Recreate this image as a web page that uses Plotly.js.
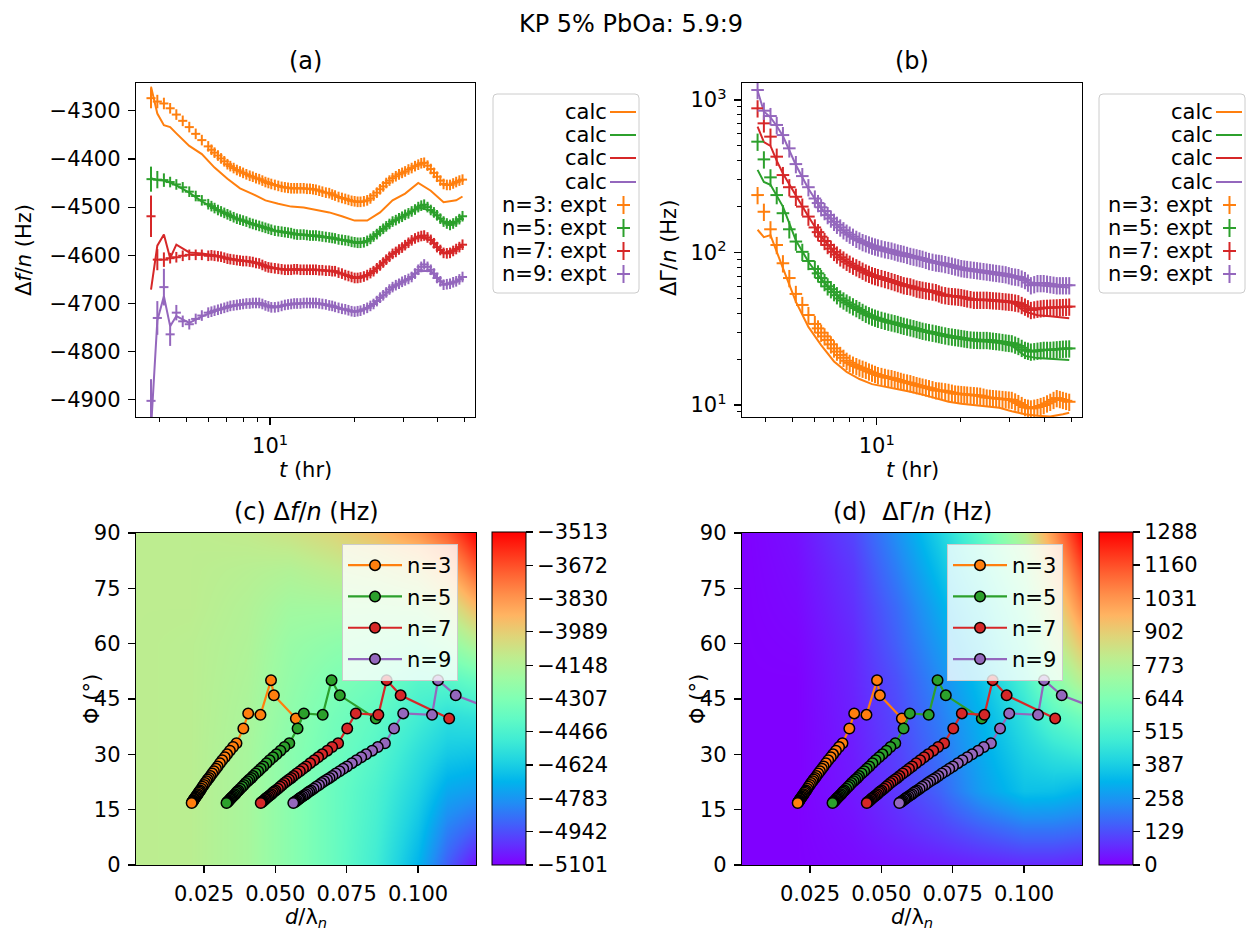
<!DOCTYPE html>
<html><head><meta charset="utf-8">
<script src="https://cdn.plot.ly/plotly-3.0.1.min.js"></script>
<style>body{margin:0;background:#fff}#chart{width:1248px;height:934px}</style>
</head><body><div id="chart"></div>
<script>
// ---------------- data ----------------
const harmonics = [3, 5, 7, 9];
const seriesColors = ['#ff7f0e', '#2ca02c', '#d62728', '#9467bd'];

// time (hr) of experimental points and of calculated curve
const tExpt = [3.74,3.94,4.16,4.38,4.61,4.86,5.13,5.41,5.69,
 6.0,6.16,6.32,6.5,6.67,6.85,7.03,7.2,7.4,7.6,
 7.8,8.0,8.22,8.45,8.67,8.9,9.14,9.38,9.62,9.86,
 10.1,10.4,10.7,11.0,11.3,11.6,11.9,12.2,12.5,12.85,
 13.2,13.55,13.9,14.25,14.6,15.0,15.4,15.85,16.3,16.7,
 17.1,17.6,18.1,18.6,19.1,19.6,20.1,20.6,21.1,21.7,
 22.3,22.9,23.5,24.15,24.8,25.45,26.1,26.8,27.5,28.25,
 29.0,29.75,30.5,31.35,32.2,33.1,34.0,34.85,35.7,36.7,
 37.7,38.7,39.7,40.8,41.9,43.05,44.2,45.35,46.5,47.75,49.0];
const tCalc = [3.74,3.94,4.16,4.38,4.61,5.13,5.69,6.32,7.03,7.8,8.67,9.62,10.7,11.9,13.2,14.6,16.3,18.1,20.1,22.3,24.8,27.5,30.5,34.0,37.7,41.9,46.5,49.0];

// (a) delta f / n (Hz), experimental
const dfExpt3 = [-4274,-4281,-4285,-4295,-4308,-4321,-4334,-4348,-4361,
 -4374,-4381,-4387,-4393,-4399,-4405,-4411,-4415,-4419,-4423,
 -4426,-4429,-4432,-4435,-4437,-4440,-4442,-4445,-4448,-4450,
 -4452,-4454,-4456,-4458,-4459,-4460,-4461,-4461,-4461,-4461,
 -4461,-4462,-4462,-4463,-4464,-4466,-4468,-4470,-4471,-4474,
 -4476,-4479,-4481,-4483,-4485,-4487,-4488,-4489,-4489,-4488,
 -4486,-4482,-4476,-4470,-4463,-4457,-4450,-4445,-4440,-4436,
 -4432,-4429,-4426,-4422,-4419,-4415,-4412,-4409,-4408,-4414,
 -4421,-4429,-4437,-4445,-4452,-4454,-4454,-4451,-4448,-4445,-4443];
const dfExpt5 = [-4442,-4443,-4444,-4448,-4453,-4459,-4468,-4477,-4486,
 -4494,-4498,-4502,-4506,-4509,-4512,-4515,-4518,-4521,-4524,
 -4526,-4528,-4530,-4533,-4535,-4537,-4539,-4541,-4543,-4545,
 -4547,-4549,-4550,-4551,-4552,-4553,-4554,-4556,-4557,-4557,
 -4557,-4558,-4559,-4559,-4559,-4560,-4561,-4562,-4563,-4564,
 -4565,-4567,-4568,-4569,-4570,-4572,-4573,-4574,-4574,-4573,
 -4570,-4566,-4561,-4556,-4550,-4545,-4540,-4535,-4530,-4527,
 -4523,-4520,-4516,-4513,-4509,-4505,-4500,-4497,-4495,-4500,
 -4506,-4511,-4517,-4524,-4530,-4534,-4537,-4534,-4530,-4525,-4519];
const dfExpt7 = [-4519,-4609,-4609,-4606,-4604,-4601,-4599,-4599,-4599,
 -4601,-4600,-4601,-4602,-4603,-4605,-4607,-4608,-4609,-4610,
 -4611,-4612,-4612,-4613,-4614,-4616,-4617,-4620,-4623,-4625,
 -4626,-4627,-4628,-4629,-4630,-4630,-4630,-4629,-4629,-4630,
 -4630,-4630,-4630,-4630,-4630,-4631,-4631,-4632,-4632,-4633,
 -4633,-4636,-4638,-4641,-4643,-4645,-4647,-4647,-4646,-4644,
 -4641,-4637,-4633,-4627,-4621,-4615,-4609,-4603,-4597,-4593,
 -4588,-4584,-4579,-4574,-4569,-4565,-4562,-4560,-4559,-4563,
 -4568,-4575,-4583,-4589,-4595,-4596,-4595,-4591,-4587,-4583,-4578];
const dfExpt9 = [-4902,-4730,-4666,-4764,-4719,-4737,-4743,-4732,-4725,
 -4719,-4717,-4715,-4713,-4711,-4709,-4707,-4705,-4704,-4703,
 -4702,-4701,-4700,-4700,-4699,-4699,-4699,-4701,-4704,-4706,
 -4708,-4708,-4707,-4705,-4703,-4702,-4701,-4700,-4700,-4700,
 -4699,-4699,-4699,-4699,-4699,-4700,-4701,-4702,-4704,-4705,
 -4707,-4709,-4711,-4712,-4714,-4716,-4717,-4716,-4715,-4712,
 -4709,-4705,-4701,-4695,-4688,-4683,-4677,-4671,-4666,-4662,
 -4659,-4655,-4652,-4649,-4645,-4638,-4630,-4624,-4619,-4624,
 -4630,-4638,-4647,-4654,-4661,-4660,-4659,-4656,-4654,-4650,-4645];
// (a) error bars (Hz)
const dfErr3 = [21,14,12,11,11,11,11,11,11, 11,11,11,11,11,11,11,11,11,11, 11,11,11,11,11,11,11,11,11,11, 11,11,11,11,11,11,11,11,11,11, 11,11,11,11,11,11,11,11,11,11, 11,11,11,11,11,11,11,11,11,11, 11,11,11,11,11,11,11,11,11,11, 11,11,11,11,11,11,11,11,11,11, 11,11,11,11,11,11,11,11,11,11,11];
const dfErr5 = [26,18,14,11,11,11,11,11,11, 11,11,11,11,11,11,11,11,11,11, 11,11,11,11,11,11,11,11,11,11, 11,11,11,11,11,11,11,11,11,11, 11,11,11,11,11,11,11,11,11,11, 11,11,11,11,11,11,11,11,11,11, 11,11,11,11,11,11,11,11,11,11, 11,11,11,11,11,11,11,11,11,11, 11,11,11,11,11,11,11,11,11,11,11];
const dfErr7 = [43,22,15,11,11,11,11,11,11, 11,11,11,11,11,11,11,11,11,11, 11,11,11,11,11,11,11,11,11,11, 11,11,11,11,11,11,11,11,11,11, 11,11,11,11,11,11,11,11,11,11, 11,11,11,11,11,11,11,11,11,11, 11,11,11,11,11,11,11,11,11,11, 11,11,11,11,11,11,11,11,11,11, 11,11,11,11,11,11,11,11,11,11,11];
const dfErr9 = [45,35,38,24,16,12,11,11,11, 11,11,11,11,11,11,11,11,11,11, 11,11,11,11,11,11,11,11,11,11, 11,11,11,11,11,11,11,11,11,11, 11,11,11,11,11,11,11,11,11,11, 11,11,11,11,11,11,11,11,11,11, 11,11,11,11,11,11,11,11,11,11, 11,11,11,11,11,11,11,11,11,11, 11,11,11,11,11,11,11,11,11,11,11];
// (a) calculated
const dfCalc3 = [-4250,-4306,-4330,-4334,-4347,-4373,-4390,-4418,-4441,-4461,-4473,-4486,-4493,-4499,-4501,-4506,-4511,-4519,-4528,-4528,-4511,-4486,-4472,-4450,-4466,-4490,-4486,-4478];
const dfCalc5 = [-4440,-4444,-4445,-4449,-4455,-4470,-4488,-4503,-4516,-4527,-4536,-4544,-4551,-4555,-4558,-4560,-4564,-4569,-4574,-4571,-4551,-4531,-4517,-4501,-4507,-4531,-4531,-4520];
const dfCalc7 = [-4671,-4580,-4557,-4606,-4578,-4594,-4596,-4600,-4606,-4610,-4614,-4622,-4628,-4630,-4630,-4630,-4632,-4638,-4647,-4641,-4621,-4597,-4579,-4562,-4568,-4595,-4587,-4578];
const dfCalc9 = [-4960,-4735,-4685,-4747,-4726,-4740,-4727,-4716,-4708,-4703,-4700,-4704,-4706,-4702,-4700,-4700,-4705,-4712,-4717,-4710,-4690,-4668,-4653,-4633,-4632,-4660,-4655,-4645];

// (b) delta Gamma / n (Hz), experimental
const dgExpt3 = [238,185,142,112,85,68,53.5,45.3,38.9,
 34,31.8,29.8,28.2,26.7,25,23.5,22.4,21.3,20.4,
 19.5,18.9,18.4,18,17.6,17.3,17,16.6,16.3,16,
 15.7,15.5,15.3,15.1,15,14.8,14.6,14.4,14.2,14.05,
 13.9,13.7,13.5,13.35,13.2,13.05,12.9,12.7,12.5,12.45,
 12.4,12.3,12.2,12.05,11.9,11.85,11.8,11.75,11.7,11.65,
 11.6,11.55,11.5,11.35,11.2,11.15,11.1,11.05,11,10.95,
 10.9,10.85,10.8,10.55,10.3,10,9.7,9.6,9.5,9.6,
 9.7,9.85,10,10.25,10.5,10.8,11.1,10.95,10.8,10.65,10.5];
const dgExpt5 = [533,408,311,238,181,142,118,101,88,
 78,73,68,64,60,57.5,55,52.5,50,48.5,
 47,45.7,44.4,43.2,42,40.8,39.7,38.8,38,37.4,
 36.8,36.2,35.7,35.2,34.8,34.4,34,33.5,33.1,32.7,
 32.3,31.9,31.5,31.1,30.7,30.4,30.1,29.8,29.5,29.2,
 28.9,28.6,28.3,28.1,27.9,27.7,27.5,27.3,27.1,26.9,
 26.8,26.75,26.7,26.7,26.7,26.55,26.4,26.25,26.1,25.9,
 25.7,25.55,25.4,24.9,24.4,23.7,23,22.7,22.4,22.55,
 22.7,22.85,23,23,23,23.1,23.2,23.3,23.4,23.45,23.5];
const dgExpt7 = [882,703,575,425,322,268,232,200,172,
 146,136,127,119,112,106,101,97,93,90,
 87,84.5,82,80,78,76,74,72.5,71,70,
 69,68,67,66,65,64,63,62,61,60.5,
 60,59,58,57.5,57,56.5,56,55.5,55,54,
 53,52.5,52,51.8,51.6,51.3,51,50.5,50,49.5,
 49,49,49,49,49,48.8,48.6,48.45,48.3,48.05,
 47.8,47.6,47.4,46.95,46.5,45.3,44.2,43.1,42,42.4,
 42.8,43.05,43.3,43.4,43.5,43.6,43.7,43.8,43.9,44.05,44.2];
const dgExpt9 = [1163,851,785,686,589,482,380,317,268,
 226,211,198,187,176,167,159,152,146,140,
 135,131,127,123,120,117,115,113,111,109.5,
 108,106.5,105,104,103,101.5,100,99,98,96.5,
 95,94,93,92,91,89.5,88,87,86,85.5,
 85,84,83,82,81,80,79,78.5,78,77.5,
 77,76.5,76,75.5,75,74.5,74,73.5,73,72.5,
 72,71,70,69.5,69,67.5,66,63.5,61,62,
 63,63,63,62.5,62,61.5,61,61,61,61,61];
// (b) calculated
const dgCalc3 = [141,126,130,100,79,47.6,32.5,24.7,19.3,16.5,14.8,13.7,13.2,12.7,12.2,11.7,11.1,10.5,10.2,10,9.8,9.6,9.1,8.7,8.5,8.4,8.7,8.9];
const dgCalc5 = [348,290,278,235,200,120,87,67,54,46.5,41.5,37.5,35,33.3,31.7,30.2,29,27.8,27,26.3,26,25.5,24.5,21,20.3,20,19.8,19.7];
const dgCalc7 = [668,530,500,400,330,235,172,127,101,87,78,71,67,63,60,57,55,52,51,49,48.5,48,47,41,38.8,38.2,37.5,37];
const dgCalc9 = [1150,840,770,675,580,375,262,195,157,133,118,106,101,96,93,89,84,81,77,75,73,71,69,65,61,60,59,59];

// (c),(d) solution points: phase angle (deg) shared, d/lambda_n per harmonic
const phiSol = [39.7,46.0,50.1,40.7,41.1,37.0,33.0,32.0,31.0,30.0,29.2,28.4,27.6,26.7,26.1,25.4,24.8,24.1,23.6,23.2,22.7,22.2,21.7,21.2,20.7,20.2,19.9,19.6,19.2,18.9,18.6,18.3,18.0,17.8,17.5,17.3,17.1,17.0,16.8];
const dlam3 = [0.0572,0.0495,0.0485,0.0448,0.0405,0.0388,0.0364,0.0352,0.0341,0.0331,0.0323,0.0314,0.0306,0.0298,0.0292,0.0285,0.0279,0.0273,0.0268,0.0263,0.0259,0.0254,0.0250,0.0245,0.0241,0.0237,0.0234,0.0231,0.0228,0.0225,0.0222,0.0220,0.0217,0.0215,0.0213,0.0211,0.0210,0.0208,0.0207];
const dlam5 = [0.0852,0.0726,0.0697,0.0666,0.0600,0.0578,0.0549,0.0532,0.0518,0.0504,0.0492,0.0480,0.0469,0.0458,0.0449,0.0440,0.0431,0.0422,0.0416,0.0409,0.0403,0.0396,0.0390,0.0384,0.0377,0.0371,0.0367,0.0363,0.0359,0.0355,0.0351,0.0347,0.0344,0.0341,0.0338,0.0335,0.0333,0.0331,0.0329];
const dlam7 = [0.1109,0.0939,0.0890,0.0861,0.0782,0.0752,0.0720,0.0699,0.0682,0.0664,0.0650,0.0636,0.0622,0.0608,0.0597,0.0586,0.0575,0.0564,0.0556,0.0548,0.0540,0.0532,0.0524,0.0517,0.0509,0.0501,0.0496,0.0491,0.0486,0.0481,0.0476,0.0471,0.0467,0.0464,0.0460,0.0456,0.0454,0.0451,0.0449];
const dlam9 = [0.1348,0.1132,0.1070,0.1049,0.0948,0.0916,0.0884,0.0859,0.0839,0.0818,0.0801,0.0784,0.0768,0.0751,0.0738,0.0725,0.0712,0.0700,0.0690,0.0681,0.0671,0.0662,0.0653,0.0643,0.0634,0.0625,0.0619,0.0613,0.0607,0.0601,0.0595,0.0589,0.0585,0.0581,0.0576,0.0572,0.0569,0.0566,0.0563];

// (c),(d) model maps on a coarse grid (rows = phi, columns = d/lambda)
const mapD = [0.0012,0.02,0.04,0.055,0.07,0.085,0.1,0.11,0.1203];
const mapPhi = [0,10,20,30,40,50,60,70,80,90];
const mapDf = [
  [-4116,-4124,-4180,-4275,-4371,-4498,-4704,-4910,-5069],
  [-4116,-4124,-4180,-4275,-4371,-4482,-4656,-4831,-4910],
  [-4116,-4124,-4180,-4275,-4371,-4466,-4609,-4736,-4768],
  [-4116,-4124,-4180,-4275,-4355,-4434,-4561,-4640,-4656],
  [-4116,-4124,-4172,-4259,-4339,-4402,-4498,-4561,-4545],
  [-4116,-4124,-4164,-4243,-4307,-4355,-4434,-4434,-4386],
  [-4116,-4124,-4156,-4228,-4259,-4291,-4323,-4259,-4148],
  [-4116,-4116,-4148,-4196,-4196,-4196,-4180,-4085,-3926],
  [-4116,-4116,-4132,-4148,-4116,-4085,-4021,-3894,-3704],
  [-4116,-4116,-4101,-4069,-4021,-3942,-3831,-3704,-3513]
];
const mapDg = [
  [0,0,13,26,39,52,64,64,52],
  [0,0,26,64,103,155,200,200,185],
  [0,0,39,90,160,275,355,350,320],
  [0,0,45,103,185,300,395,440,470],
  [0,0,52,116,206,320,440,545,605],
  [0,0,58,129,232,350,505,660,790],
  [0,6,64,155,265,390,570,770,930],
  [0,13,77,175,300,440,630,850,1060],
  [0,19,90,210,345,505,710,940,1170],
  [0,26,112,245,390,570,790,1030,1288]
];
const cbTicksDf = [-5101,-4942,-4783,-4624,-4466,-4307,-4148,-3989,-3830,-3672,-3513];
const cbTicksDg = [0,129,258,387,515,644,773,902,1031,1160,1288];

// ---------------- helpers ----------------
const W = 1248, H = 934;
const X = v => v / W;
const Y = v => 1 - v / H;
const dfExpt = [dfExpt3, dfExpt5, dfExpt7, dfExpt9];
const dfErr = [dfErr3, dfErr5, dfErr7, dfErr9];
const dfCalc = [dfCalc3, dfCalc5, dfCalc7, dfCalc9];
const dgExpt = [dgExpt3, dgExpt5, dgExpt7, dgExpt9];
const dgCalc = [dgCalc3, dgCalc5, dgCalc7, dgCalc9];
const dlam = [dlam3, dlam5, dlam7, dlam9];

const rainbow = [
 [0,'rgb(128,0,255)'],[0.0625,'rgb(96,50,254)'],[0.125,'rgb(64,98,250)'],[0.1875,'rgb(32,142,244)'],
 [0.25,'rgb(0,180,236)'],[0.3125,'rgb(32,212,225)'],[0.375,'rgb(64,236,212)'],[0.4375,'rgb(96,250,197)'],
 [0.5,'rgb(128,255,180)'],[0.5625,'rgb(159,250,162)'],[0.625,'rgb(191,236,142)'],[0.6875,'rgb(223,212,120)'],
 [0.75,'rgb(255,180,98)'],[0.8125,'rgb(255,142,74)'],[0.875,'rgb(255,98,50)'],[0.9375,'rgb(255,50,25)'],[1,'rgb(255,0,0)']
];

const traces = [];
// (a) calc
harmonics.forEach((n, i) => traces.push({type:'scatter', mode:'lines', x:tCalc, y:dfCalc[i], xaxis:'x', yaxis:'y',
  line:{color:seriesColors[i], width:2}, showlegend:false, hoverinfo:'skip'}));
// (a) expt
harmonics.forEach((n, i) => traces.push({type:'scatter', mode:'markers', x:tExpt, y:dfExpt[i], xaxis:'x', yaxis:'y',
  marker:{symbol:'line-ew', size:6.5, color:seriesColors[i], line:{color:seriesColors[i], width:2}},
  error_y:{type:'data', array:dfErr[i], visible:true, color:seriesColors[i], thickness:2, width:0},
  showlegend:false, hoverinfo:'skip'}));
// (b) calc
harmonics.forEach((n, i) => traces.push({type:'scatter', mode:'lines', x:tCalc, y:dgCalc[i], xaxis:'x2', yaxis:'y2',
  line:{color:seriesColors[i], width:2}, showlegend:false, hoverinfo:'skip'}));
// (b) expt
harmonics.forEach((n, i) => traces.push({type:'scatter', mode:'markers', x:tExpt, y:dgExpt[i], xaxis:'x2', yaxis:'y2',
  marker:{symbol:'line-ew', size:9, color:seriesColors[i], line:{color:seriesColors[i], width:2}},
  error_y:{type:'percent', value:13, visible:true, color:seriesColors[i], thickness:2, width:0},
  showlegend:false, hoverinfo:'skip'}));

function cbar(xLeft, ticks) {
  return {x:X(xLeft), xanchor:'left', y:Y(865), yanchor:'bottom', len:(865-532)/H, lenmode:'fraction',
    thickness:34, thicknessmode:'pixels', outlinewidth:1, outlinecolor:'black', xpad:0, ypad:0,
    tickmode:'array', tickvals:ticks, ticks:'outside', ticklen:7, tickwidth:1.2, tickcolor:'black',
    tickfont:{size:21, color:'black', family:'DejaVu Sans'}};
}
// (c) map
traces.push({type:'heatmap', x:mapD, y:mapPhi, z:mapDf, xaxis:'x3', yaxis:'y3', zsmooth:'best',
  colorscale:rainbow, zmin:cbTicksDf[0], zmax:cbTicksDf[cbTicksDf.length-1], colorbar:cbar(492, cbTicksDf),
  showlegend:false, hoverinfo:'skip'});
// (d) map
traces.push({type:'heatmap', x:mapD, y:mapPhi, z:mapDg, xaxis:'x4', yaxis:'y4', zsmooth:'best',
  colorscale:rainbow, zmin:cbTicksDg[0], zmax:cbTicksDg[cbTicksDg.length-1], colorbar:cbar(1099, cbTicksDg),
  showlegend:false, hoverinfo:'skip'});
// (c),(d) solution points
[['x3','y3','legend3'],['x4','y4','legend4']].forEach(([xa, ya, lg]) => {
  harmonics.forEach((n, i) => traces.push({type:'scatter', mode:'lines+markers', x:dlam[i], y:phiSol,
    xaxis:xa, yaxis:ya, legend:lg, name:'n=' + n, legendgroup:lg + n,
    line:{color:seriesColors[i], width:2.2},
    marker:{color:seriesColors[i], size:10.5, line:{color:'black', width:1.5}}, hoverinfo:'skip'}));
});

const axBase = {showline:true, mirror:true, linecolor:'black', linewidth:1.2, ticks:'outside', ticklen:7,
  tickwidth:1.2, tickcolor:'black', showgrid:false, zeroline:false, fixedrange:true, ticklabelstandoff:3,
  tickfont:{size:21, color:'black', family:'DejaVu Sans'}};
const minorStyle = {ticks:'outside', ticklen:4, tickwidth:1, tickcolor:'black', showgrid:false};

const legendBase = {xanchor:'left', yanchor:'top', bgcolor:'rgba(255,255,255,0.8)',
  bordercolor:'#cccccc', borderwidth:1, font:{size:21, color:'black'}, itemwidth:54,
  traceorder:'grouped', tracegroupgap:1};

const layout = {
  width:W, height:H, margin:{l:0, r:0, t:0, b:0, pad:0}, paper_bgcolor:'white', plot_bgcolor:'white',
  font:{family:'DejaVu Sans', size:21, color:'black'}, showlegend:true,
  xaxis: Object.assign({}, axBase, {domain:[X(136), X(475)], anchor:'y', type:'log', range:[0.519, 1.735],
    tickmode:'array', tickvals:[10], ticktext:['10<sup>1</sup>'],
    minor:Object.assign({tickmode:'array', tickvals:[4,5,6,7,8,9,20,30,40,50]}, minorStyle)}),
  yaxis: Object.assign({}, axBase, {domain:[Y(417), Y(83)], anchor:'x', range:[-4935.5, -4242.5],
    tickmode:'array', tickvals:[-4900,-4800,-4700,-4600,-4500,-4400,-4300]}),
  xaxis2: Object.assign({}, axBase, {domain:[X(742), X(1082)], anchor:'y2', type:'log', range:[0.517, 1.736],
    tickmode:'array', tickvals:[10], ticktext:['10<sup>1</sup>'],
    minor:Object.assign({tickmode:'array', tickvals:[4,5,6,7,8,9,20,30,40,50]}, minorStyle)}),
  yaxis2: Object.assign({}, axBase, {domain:[Y(417), Y(83)], anchor:'x2', type:'log', range:[0.9213, 3.1115],
    tickmode:'array', tickvals:[10,100,1000], ticktext:['10<sup>1</sup>','10<sup>2</sup>','10<sup>3</sup>'],
    minor:Object.assign({tickmode:'array', tickvals:[9,20,30,40,50,60,70,80,90,200,300,400,500,600,700,800,900]}, minorStyle)}),
  xaxis3: Object.assign({}, axBase, {domain:[X(136), X(476)], anchor:'y3', range:[0.0012, 0.1203],
    tickmode:'array', tickvals:[0.025,0.05,0.075,0.1], ticktext:['0.025','0.050','0.075','0.100']}),
  yaxis3: Object.assign({}, axBase, {domain:[Y(865), Y(533)], anchor:'x3', range:[0, 90],
    tickmode:'array', tickvals:[0,15,30,45,60,75,90]}),
  xaxis4: Object.assign({}, axBase, {domain:[X(742), X(1082)], anchor:'y4', range:[0.0012, 0.1203],
    tickmode:'array', tickvals:[0.025,0.05,0.075,0.1], ticktext:['0.025','0.050','0.075','0.100']}),
  yaxis4: Object.assign({}, axBase, {domain:[Y(865), Y(533)], anchor:'x4', range:[0, 90],
    tickmode:'array', tickvals:[0,15,30,45,60,75,90]}),
  legend3: Object.assign({x:X(342), y:Y(544)}, legendBase),
  legend4: Object.assign({x:X(947), y:Y(544)}, legendBase),
  shapes:[], annotations:[]
};

function ann(text, x, y, opts) {
  layout.annotations.push(Object.assign({text:text, x:X(x), y:Y(y), xref:'paper', yref:'paper',
    showarrow:false, xanchor:'center', yanchor:'middle', font:{size:21, color:'black'}}, opts || {}));
}
// titles
ann('KP 5% PbOa: 5.9:9', 631, 24, {font:{size:24, color:'black'}});
ann('(a)', 305.5, 61, {font:{size:24, color:'black'}});
ann('(b)', 912, 61, {font:{size:24, color:'black'}});
ann('(c) Δ<i>f</i>/<i>n</i> (Hz)', 306, 512, {font:{size:24, color:'black'}});
ann('(d)  ΔΓ/<i>n</i> (Hz)', 912, 512, {font:{size:24, color:'black'}});
// axis titles
ann('Δ<i>f</i>/<i>n</i> (Hz)', 24, 250, {textangle:-90});
ann('<i>t</i> (hr)', 305.5, 470);
ann('ΔΓ/<i>n</i> (Hz)', 669, 248, {textangle:-90});
ann('<i>t</i> (hr)', 912, 470);
ann('Φ (°)', 92, 699, {textangle:-90});
ann('<i>d</i>/λ<sub><i>n</i></sub>', 306, 918);
ann('Φ (°)', 698, 699, {textangle:-90});
ann('<i>d</i>/λ<sub><i>n</i></sub>', 912, 918);

// legends of (a) and (b): label on the left, handle on the right
function roundRect(L, T, w, h, r) {
  const p = (x, y) => X(x) + ',' + Y(y);
  return 'M' + p(L + r, T) + ' L' + p(L + w - r, T) + ' Q' + p(L + w, T) + ' ' + p(L + w, T + r) +
    ' L' + p(L + w, T + h - r) + ' Q' + p(L + w, T + h) + ' ' + p(L + w - r, T + h) +
    ' L' + p(L + r, T + h) + ' Q' + p(L, T + h) + ' ' + p(L, T + h - r) +
    ' L' + p(L, T + r) + ' Q' + p(L, T) + ' ' + p(L + r, T) + ' Z';
}
function seg(x0, y0, x1, y1, color) {
  layout.shapes.push({type:'line', xref:'paper', yref:'paper', x0:X(x0), y0:Y(y0), x1:X(x1), y1:Y(y1),
    line:{color:color, width:2}, layer:'above'});
}
const rowOffsets = [18, 41, 64, 88, 111, 134, 157, 180];
function sideLegend(L, T) {
  layout.shapes.push({type:'path', xref:'paper', yref:'paper', path:roundRect(L, T, 146, 199, 4),
    line:{color:'#cccccc', width:1}, fillcolor:'rgba(255,255,255,0.8)', layer:'above'});
  harmonics.forEach((n, i) => {
    const yc = T + rowOffsets[i];
    ann('calc', L + 116, yc, {xanchor:'right'});
    seg(L + 117, yc, L + 143, yc, seriesColors[i]);
  });
  harmonics.forEach((n, i) => {
    const ye = T + rowOffsets[i + 4];
    ann('n=' + n + ': expt', L + 116, ye, {xanchor:'right'});
    seg(L + 124, ye, L + 137, ye, seriesColors[i]);
    seg(L + 130.5, ye - 9, L + 130.5, ye + 9, seriesColors[i]);
  });
}
sideLegend(493, 94);
sideLegend(1099, 94);

Plotly.newPlot('chart', traces, layout, {staticPlot:true, displayModeBar:false});
</script>
</body></html>
